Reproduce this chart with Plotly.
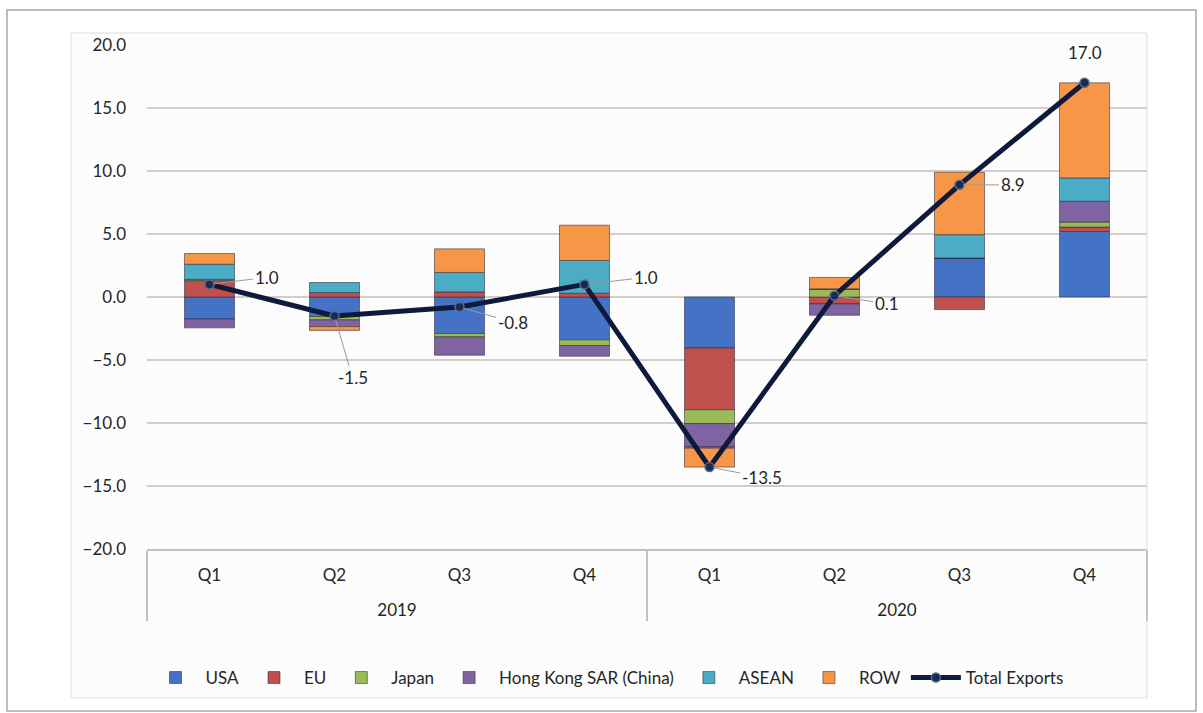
import plotly.graph_objects as go

# Quarterly contribution to export growth, percentage points
years = ["2019"] * 4 + ["2020"] * 4
quarters = ["Q1", "Q2", "Q3", "Q4", "Q1", "Q2", "Q3", "Q4"]

usa = [-1.75, -1.55, -2.9, -3.4, -4.05, 0.0, 3.1, 5.2]
eu = [1.3, 0.35, 0.4, 0.3, -4.9, -0.55, -1.0, 0.35]
japan = [0.1, -0.27, -0.27, -0.45, -1.1, 0.6, 0.0, 0.4]
hong_kong = [-0.7, -0.53, -1.45, -0.85, -1.85, -0.9, 0.0, 1.65]
asean = [1.2, 0.8, 1.55, 2.6, -0.1, 0.05, 1.85, 1.85]
row = [0.85, -0.3, 1.87, 2.8, -1.5, 0.9, 4.95, 7.55]
total_exports = [1.0, -1.5, -0.8, 1.0, -13.5, 0.1, 8.9, 17.0]

series = [
    ("USA", usa, "#4472C4"),
    ("EU", eu, "#C0504D"),
    ("Japan", japan, "#9BBB59"),
    ("Hong Kong SAR (China)", hong_kong, "#8064A2"),
    ("ASEAN", asean, "#4BACC6"),
    ("ROW", row, "#F79646"),
]

FONT = "Lato, Open Sans, sans-serif"
TEXT = "#262626"

# Year row sits one blank line below the quarter row
year_labels = ["<br>" + y for y in years]
x = [year_labels, quarters]

fig = go.Figure()
for name, vals, color in series:
    fig.add_trace(go.Bar(
        x=x, y=vals, name=name,
        marker=dict(color=color, line=dict(color="rgba(40,40,60,0.55)", width=1)),
    ))

fig.add_trace(go.Scatter(
    x=x, y=total_exports, name="Total Exports", mode="lines+markers",
    line=dict(color="#0E1A3C", width=5),
    marker=dict(size=9, color="#1A2A55", line=dict(color="#5A6A8A", width=1.5)),
))

# Value labels with leader lines (pixel offsets of each label from its point)
offsets = [(57, -7), (18, 62), (53, 15), (61, -7), (52, 10), (52, 8), (53, 0), (0, -30)]
for yl, q, v, (ax, ay) in zip(year_labels, quarters, total_exports, offsets):
    leader = ax != 0
    fig.add_annotation(
        x=[yl, q], y=v, text=f"{v:.1f}",
        showarrow=leader, arrowhead=0, arrowwidth=1, arrowcolor="#9A9A9A",
        ax=ax if leader else 0, ay=ay if leader else 0,
        yshift=0 if leader else -ay,
        standoff=4, startstandoff=0,
        font=dict(family=FONT, size=17, color=TEXT),
    )

# Outer frame and chart area
fig.add_shape(type="rect", xref="paper", yref="paper",
              x0=-0.14, x1=1.049, y0=-0.3214, y1=1.0694,
              line=dict(color="#A6A6A6", width=1.5), fillcolor="rgba(0,0,0,0)", layer="below")
fig.add_shape(type="rect", xref="paper", yref="paper",
              x0=-0.076, x1=1.0, y0=-0.2956, y1=1.0238,
              line=dict(color="#DDDDDD", width=1), fillcolor="#FCFCFC", layer="below")

fig.update_layout(
    width=1203, height=713,
    margin=dict(l=147, r=56, t=45, b=164),
    paper_bgcolor="white", plot_bgcolor="rgba(0,0,0,0)",
    barmode="relative", bargap=0.6,
    font=dict(family=FONT, size=17, color=TEXT),
    showlegend=True,
    legend=dict(orientation="h", x=0.46, xanchor="center", y=-0.256, yanchor="middle",
                font=dict(family=FONT, size=17, color=TEXT),
                traceorder="normal", itemwidth=50, bgcolor="rgba(0,0,0,0)"),
    xaxis=dict(
        type="multicategory", showgrid=False, showline=True, linecolor="#C9BFBB", linewidth=1.5,
        showdividers=True, dividercolor="#C9BFBB", dividerwidth=1.5,
        ticks="", ticklabelstandoff=10, tickfont=dict(family=FONT, size=17, color=TEXT),
    ),
    yaxis=dict(
        range=[-20, 20], dtick=5, tickformat=".1f",
        showgrid=True, gridcolor="#D6CCC8", gridwidth=1.5,
        zeroline=True, zerolinecolor="#D6CCC8", zerolinewidth=1.5,
        showline=False, ticks="", ticklabelstandoff=20,
        tickfont=dict(family=FONT, size=17, color=TEXT),
    ),
)

fig.write_html("out.html")
